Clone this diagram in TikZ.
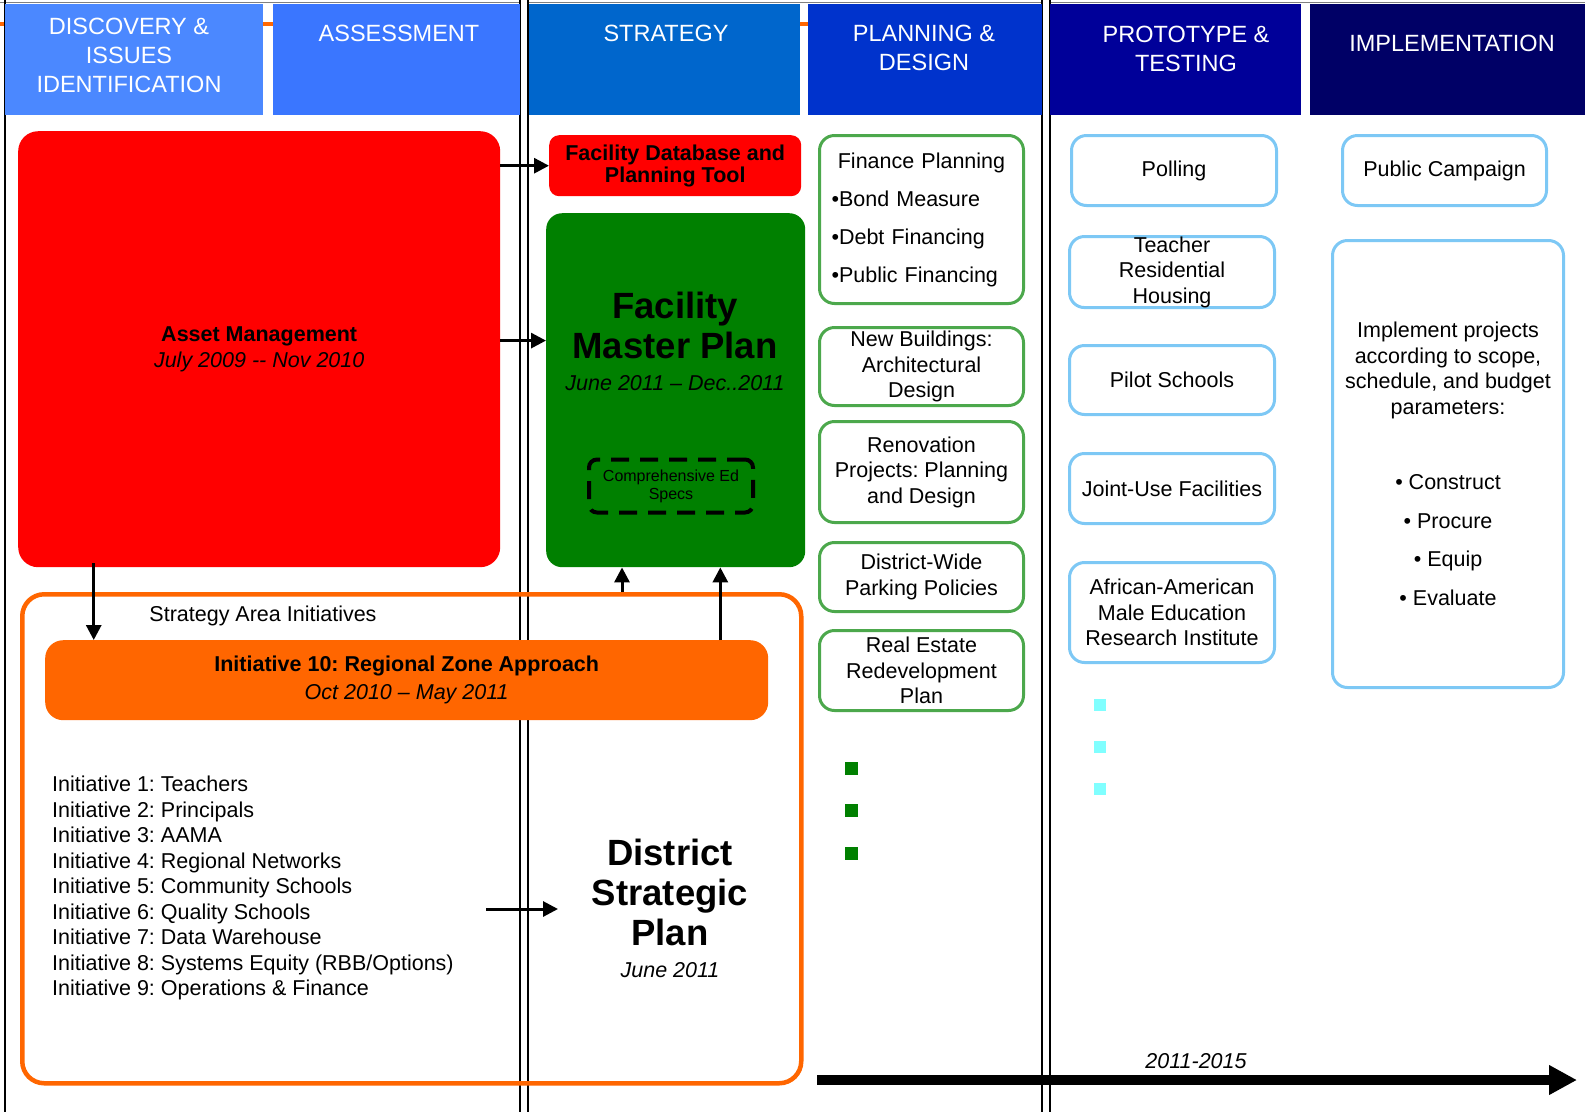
\documentclass[tikz,border=0pt]{standalone}
\usepackage{fontspec}
\setmainfont{Liberation Sans}
\frenchspacing
\usetikzlibrary{arrows.meta, positioning, calc}
\definecolor{discblue}{RGB}{75,136,255}
\definecolor{assessblue}{RGB}{58,118,255}
\definecolor{stratblue}{RGB}{0,102,204}
\definecolor{planblue}{RGB}{0,51,204}
\definecolor{protoblue}{RGB}{0,0,153}
\definecolor{implblue}{RGB}{0,0,102}
\definecolor{fmpgreen}{RGB}{0,128,0}
\definecolor{sdiorange}{RGB}{255,102,0}
\definecolor{plangreen}{RGB}{76,168,76}
\definecolor{protosky}{RGB}{125,200,245}
\definecolor{protocyan}{RGB}{128,255,255}
\newcommand{\hdrfont}{\fontsize{23.5}{29}\selectfont}
\newcommand{\bodyfont}{\fontsize{21.5}{25.5}\selectfont}
\newcommand{\bigfont}{\fontsize{36.5}{40}\selectfont\bfseries}
\newcommand{\smallfont}{\fontsize{16}{18}\selectfont}
\tikzset{header/.style={anchor=north west, inner sep=0pt, minimum height=111pt}}
\tikzset{headtext/.style={anchor=north, inner sep=0pt, text=white, font=\hdrfont, align=center}}
\tikzset{phase/.style={double, double distance=6.7pt, line width=1.3pt}}
\tikzset{solidbox/.style={anchor=north west, inner sep=0pt, align=center, font=\bodyfont}}
\tikzset{plan/.style={solidbox, draw=plangreen, line width=3pt, rounded corners=15pt, fill=white, minimum width=204pt}}
\tikzset{proto/.style={solidbox, draw=protosky, line width=3pt, rounded corners=15pt, fill=white, minimum width=205pt}}
\tikzset{plain/.style={inner sep=0pt, align=center, font=\bodyfont}}
\tikzset{arr/.style={-{Triangle[length=15pt, width=15pt]}, line width=3pt}}
\tikzset{timeline/.style={-{Triangle[length=28pt, width=28pt]}, line width=10pt}}
\tikzset{gsq/.style={fill=fmpgreen, minimum size=13pt, inner sep=0pt}}
\tikzset{csq/.style={fill=protocyan, minimum size=12pt, inner sep=0pt}}

\begin{document}
\begin{tikzpicture}[x=1pt, y=-1pt]
\useasboundingbox[fill=white] (0,0) rectangle (1585,1112);

% frame and phase separators
\draw[gray, line width=1pt] (0,2) -- (1585,2);
\draw[sdiorange, line width=4pt] (0,24) -- (1050,24);
\draw[line width=1.3pt] (5,0) -- (5,1112);
\draw[phase] (524,0) -- (524,1112);
\draw[phase] (1046,0) -- (1046,1112);

% headers
\node[header, fill=discblue, minimum width=258pt] (hdisc) at (5,4) {};
\node[header, fill=assessblue, minimum width=247pt] (hassess) at (273,4) {};
\node[header, fill=stratblue, minimum width=271pt] (hstrat) at (529,4) {};
\node[header, fill=planblue, minimum width=234pt] (hplan) at (808,4) {};
\node[header, fill=protoblue, minimum width=251pt] (hproto) at (1050,4) {};
\node[header, fill=implblue, minimum width=275pt] (himpl) at (1310,4) {};
\node[headtext] (tdisc) at (129,18) {DISCOVERY \&\\ISSUES\\IDENTIFICATION};
\node[headtext] (tassess) at (399,25) {ASSESSMENT};
\node[headtext] (tstrat) at (666,25) {STRATEGY};
\node[headtext] (tplan) at (924,25) {PLANNING \&\\DESIGN};
\node[headtext] (tproto) at (1186,26) {PROTOTYPE \&\\TESTING};
\node[headtext] (timpl) at (1452,35) {IMPLEMENTATION};

% discovery / strategy
\node[solidbox, fill=red, rounded corners=20pt, minimum width=482pt, minimum height=436pt] (asset) at (18,131)
  {\textbf{Asset Management}\\\textit{July 2009 -{}- Nov 2010}};
\node[solidbox, fill=red, rounded corners=10pt, minimum width=252pt, minimum height=61pt, font=\bodyfont\bfseries] (fdb) at (549,135)
  {Facility Database and\\[-3.5pt]Planning Tool};
\node[solidbox, fill=fmpgreen, rounded corners=16pt, minimum width=259pt, minimum height=354pt] (fmpbox) at (546,213) {};
\node[plain, font=\bigfont] (fmptitle) at (675,325) {Facility\\Master Plan};
\node[plain, below=17pt of fmptitle, font=\bodyfont\itshape] (fmpdate) {June 2011 -- Dec..2011};
\node[draw, dashed, dash pattern=on 18pt off 11pt, line width=4pt, rounded corners=8pt, minimum width=164pt, minimum height=53pt,
  inner sep=0pt, align=center, font=\smallfont] (edspecs) at (671,486) {Comprehensive Ed\\Specs};

% strategy area initiatives
\node[solidbox, draw=sdiorange, line width=4.5pt, rounded corners=22pt, minimum width=779pt, minimum height=489pt] (sai) at (20,592) {};
\node[plain] (saititle) at (263,616) {Strategy Area Initiatives};
\node[solidbox, fill=sdiorange, rounded corners=18pt, minimum width=723pt, minimum height=80pt] (init10) at (45,640)
  {\textbf{Initiative 10: Regional Zone Approach}\\[2.5pt]\textit{Oct 2010 -- May 2011}};
\node[plain, anchor=west, align=left] (initlist) at (52,888)
  {Initiative 1: Teachers\\Initiative 2: Principals\\Initiative 3: AAMA\\Initiative 4: Regional Networks\\
   Initiative 5: Community Schools\\Initiative 6: Quality Schools\\Initiative 7: Data Warehouse\\
   Initiative 8: Systems Equity (RBB/Options)\\Initiative 9: Operations \& Finance};
\node[plain, font=\bigfont] (dsp) at (670,892) {District\\Strategic\\Plan};
\node[plain, below=17pt of dsp, font=\bodyfont\itshape] (dspdate) {June 2011};

% planning & design
\node[plain, plan, minimum height=168pt, text width=180pt, align=left] (fin) at (818,134)
  {\makebox[\linewidth]{Finance Planning}\\[12.5pt]•Bond Measure\\[12.5pt]•Debt Financing\\[12.5pt]•Public Financing};
\node[plan, minimum height=78pt] (newb) at (818,326) {New Buildings:\\Architectural\\Design};
\node[plan, minimum height=101pt] (reno) at (818,420) {Renovation\\Projects: Planning\\and Design};
\node[plan, minimum height=69pt] (park) at (818,541) {District-Wide\\Parking Policies};
\node[plan, minimum height=80pt] (realest) at (818,629) {Real Estate\\Redevelopment\\Plan};
\foreach \y [count=\i] in {768,810,853}
  \node[gsq] (gsq\i) at (851,\y) {};

% prototype & testing
\node[proto, minimum height=70pt] (poll) at (1070,134) {Polling};
\node[proto, minimum height=71pt] (teach) at (1068,235) {Teacher\\Residential\\Housing};
\node[proto, minimum height=69pt] (pilot) at (1068,344) {Pilot Schools};
\node[proto, minimum height=70pt] (joint) at (1068,452) {Joint-Use Facilities};
\node[proto, minimum height=100pt] (afam) at (1068,561) {African-American\\Male Education\\Research Institute};
\foreach \y [count=\i] in {705,747,789}
  \node[csq] (csq\i) at (1100,\y) {};

% implementation
\node[proto, minimum width=204pt, minimum height=70pt] (pubc) at (1341,134) {Public Campaign};
\node[proto, minimum width=231pt, minimum height=447pt] (impl) at (1331,239)
  {Implement projects\\according to scope,\\schedule, and budget\\parameters:\\[50pt]• Construct\\[13pt]• Procure\\[13pt]• Equip\\[13pt]• Evaluate};

% connectors
\coordinate (fmpin) at ($(fmpbox.north west)!0.36!(fmpbox.south west)$);
\coordinate (down1) at ($(asset.south west)!0.157!(asset.south east)$);
\coordinate (up1) at ($(fmpbox.south west)!0.293!(fmpbox.south east)$);
\coordinate (up2) at ($(fmpbox.south west)!0.672!(fmpbox.south east)$);
\coordinate (lsta) at (486,909);
\coordinate (lstb) at (558,909);
\coordinate (tl0) at (817,1080);
\coordinate (tl1) at (1577,1080);

\draw[arr] (asset.east |- fdb.west) -- (fdb.west);
\draw[arr] (asset.east |- fmpin) -- (fmpin);
\draw[arr] ([yshift=4pt]down1) -- (down1 |- init10.north);
\draw[arr] (up1 |- sai.north) -- (up1);
\draw[arr] (up2 |- init10.north) -- (up2);
\draw[arr] (lsta) -- (lstb);
\draw[timeline] (tl0) -- (tl1);
\node[plain, font=\bodyfont\itshape] (years) at (1196,1061) {2011-2015};

\end{tikzpicture}
\end{document}
